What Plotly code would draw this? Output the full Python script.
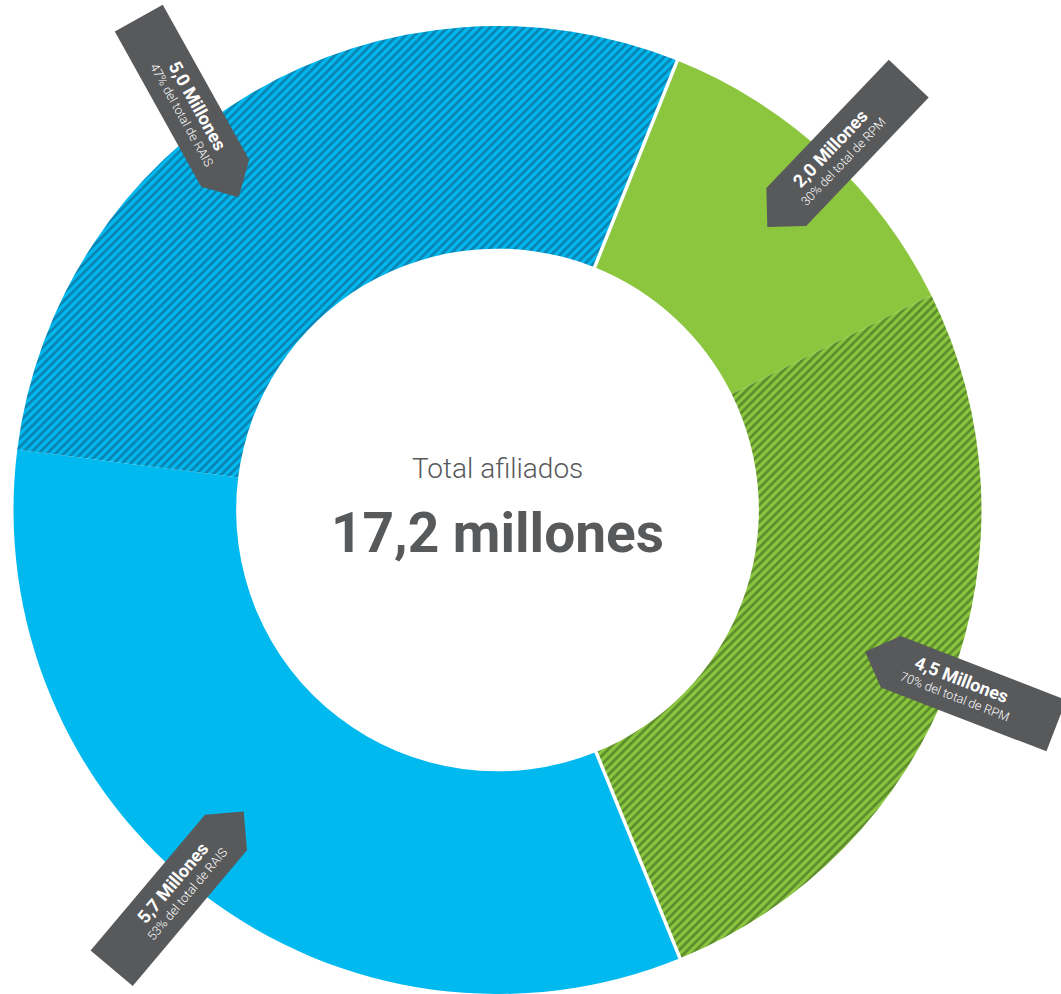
import math
import plotly.graph_objects as go

# Afiliados por régimen (millones)
segmentos = ["RPM 30%", "RPM 70%", "RAIS 53%", "RAIS 47%"]
regimen = ["RPM", "RPM", "RAIS", "RAIS"]
valores = [2.0, 4.5, 5.7, 5.0]
participacion = ["30% del total de RPM", "70% del total de RPM",
                 "53% del total de RAIS", "47% del total de RAIS"]
titulo_centro = "Total afiliados"

# Estilos
colores = ["#8cc63f", "#8cc63f", "#00b9ef", "#00b9ef"]
trama = ["", "/", "", "/"]
color_trama = ["#8cc63f", "#5a8b2c", "#00b9ef", "#0b82b0"]
GRIS = "#58595b"
FUENTE = "Roboto"

W, H = 1061, 994
CX, CY, R = 497.5, 510.0, 484.0      # centro y radio del anillo en px
HUECO = 0.54
INICIO = 21.8                         # grados, sentido horario desde las 12

fig = go.Figure()
fig.add_trace(go.Pie(
    labels=segmentos,
    values=valores,
    sort=False,
    direction="clockwise",
    rotation=INICIO,
    hole=HUECO,
    textinfo="none",
    hoverinfo="label+value",
    marker=dict(
        colors=colores,
        line=dict(width=0),
        pattern=dict(shape=trama, fgcolor=color_trama, bgcolor=colores,
                     size=6, solidity=0.45),
    ),
    domain=dict(x=[(CX - R) / W, (CX + R) / W], y=[(H - CY - R) / H, (H - CY + R) / H]),
    showlegend=False,
))


def to_paper(x, y):
    return x / W, 1 - y / H


def polar(radio, ang_deg):
    t = math.radians(ang_deg)
    return CX + radio * math.sin(t), CY - radio * math.cos(t)


total = sum(valores)
shapes, annotations = [], []

# Separadores blancos entre regímenes
acum = 0.0
for i, v in enumerate(valores):
    if regimen[i] != regimen[i - 1]:
        ang = INICIO + acum / total * 360
        x0, y0 = to_paper(*polar(R * HUECO - 3, ang))
        x1, y1 = to_paper(*polar(R + 3, ang))
        shapes.append(dict(type="line", xref="paper", yref="paper", x0=x0, y0=y0,
                           x1=x1, y1=y1, line=dict(color="white", width=3.5)))
    acum += v

# Etiquetas tipo flecha: ángulo respecto al centro de la porción,
# radio de la punta e inclinación respecto a la dirección radial
desfase_ang = [0.9, 0.35, 2.6, -9.1]
radio_punta = [391, 394, 394, 406]
inclinacion = [0.0, 0.0, 0.0, 10.5]
ANCHO, LARGO = 55.0, 205.0

acum = 0.0
for i, v in enumerate(valores):
    medio = INICIO + (acum + v / 2) / total * 360
    acum += v
    phi = math.radians(medio + desfase_ang[i])
    tx = CX + radio_punta[i] * math.sin(phi)
    ty = CY - radio_punta[i] * math.cos(phi)
    apunta = math.degrees(math.atan2(math.cos(phi), -math.sin(phi))) + inclinacion[i]
    a = math.radians(apunta)
    bx, by = -math.cos(a), -math.sin(a)      # hacia la cola
    px, py = -by, bx                          # perpendicular
    h = ANCHO / 2
    pts = [
        (tx, ty),
        (tx + bx * h + px * h, ty + by * h + py * h),
        (tx + bx * LARGO + px * h, ty + by * LARGO + py * h),
        (tx + bx * LARGO - px * h, ty + by * LARGO - py * h),
        (tx + bx * h - px * h, ty + by * h - py * h),
    ]
    path = "M " + " L ".join("%.4f,%.4f" % to_paper(x, y) for x, y in pts) + " Z"
    shapes.append(dict(type="path", path=path, xref="paper", yref="paper",
                       fillcolor=GRIS, line=dict(width=0), layer="above"))

    # ángulo de lectura del texto
    lect = apunta
    while lect > 90:
        lect -= 180
    while lect <= -90:
        lect += 180
    mx, my = tx + bx * 100, ty + by * 100
    ux, uy = math.sin(math.radians(lect)), -math.cos(math.radians(lect))
    valor_txt = ("%.1f" % v).replace(".", ",") + " Millones"
    x1, y1 = to_paper(mx + ux * 8.5, my + uy * 8.5)
    x2, y2 = to_paper(mx - ux * 9.5, my - uy * 9.5)
    annotations.append(dict(x=x1, y=y1, xref="paper", yref="paper", text=valor_txt,
                            textangle=lect, showarrow=False, xanchor="center", yanchor="middle",
                            font=dict(family=FUENTE, size=18, color="white", weight=700)))
    annotations.append(dict(x=x2, y=y2, xref="paper", yref="paper", text=participacion[i],
                            textangle=lect, showarrow=False, xanchor="center", yanchor="middle",
                            font=dict(family=FUENTE, size=12.5, color="white", weight=300)))

# Texto central
total_txt = ("%.1f" % total).replace(".", ",") + " millones"
xc, yc = to_paper(CX, 468)
annotations.append(dict(x=xc, y=yc, xref="paper", yref="paper", text=titulo_centro,
                        showarrow=False, xanchor="center", yanchor="middle",
                        font=dict(family=FUENTE, size=28, color=GRIS, weight=300)))
xc, yc = to_paper(CX, 533)
annotations.append(dict(x=xc, y=yc, xref="paper", yref="paper", text=total_txt,
                        showarrow=False, xanchor="center", yanchor="middle",
                        font=dict(family=FUENTE, size=55, color=GRIS, weight=700)))

fig.update_layout(
    width=W, height=H,
    margin=dict(l=0, r=0, t=0, b=0),
    paper_bgcolor="white",
    plot_bgcolor="white",
    shapes=shapes,
    annotations=annotations,
)

fig.write_html("out.html")
